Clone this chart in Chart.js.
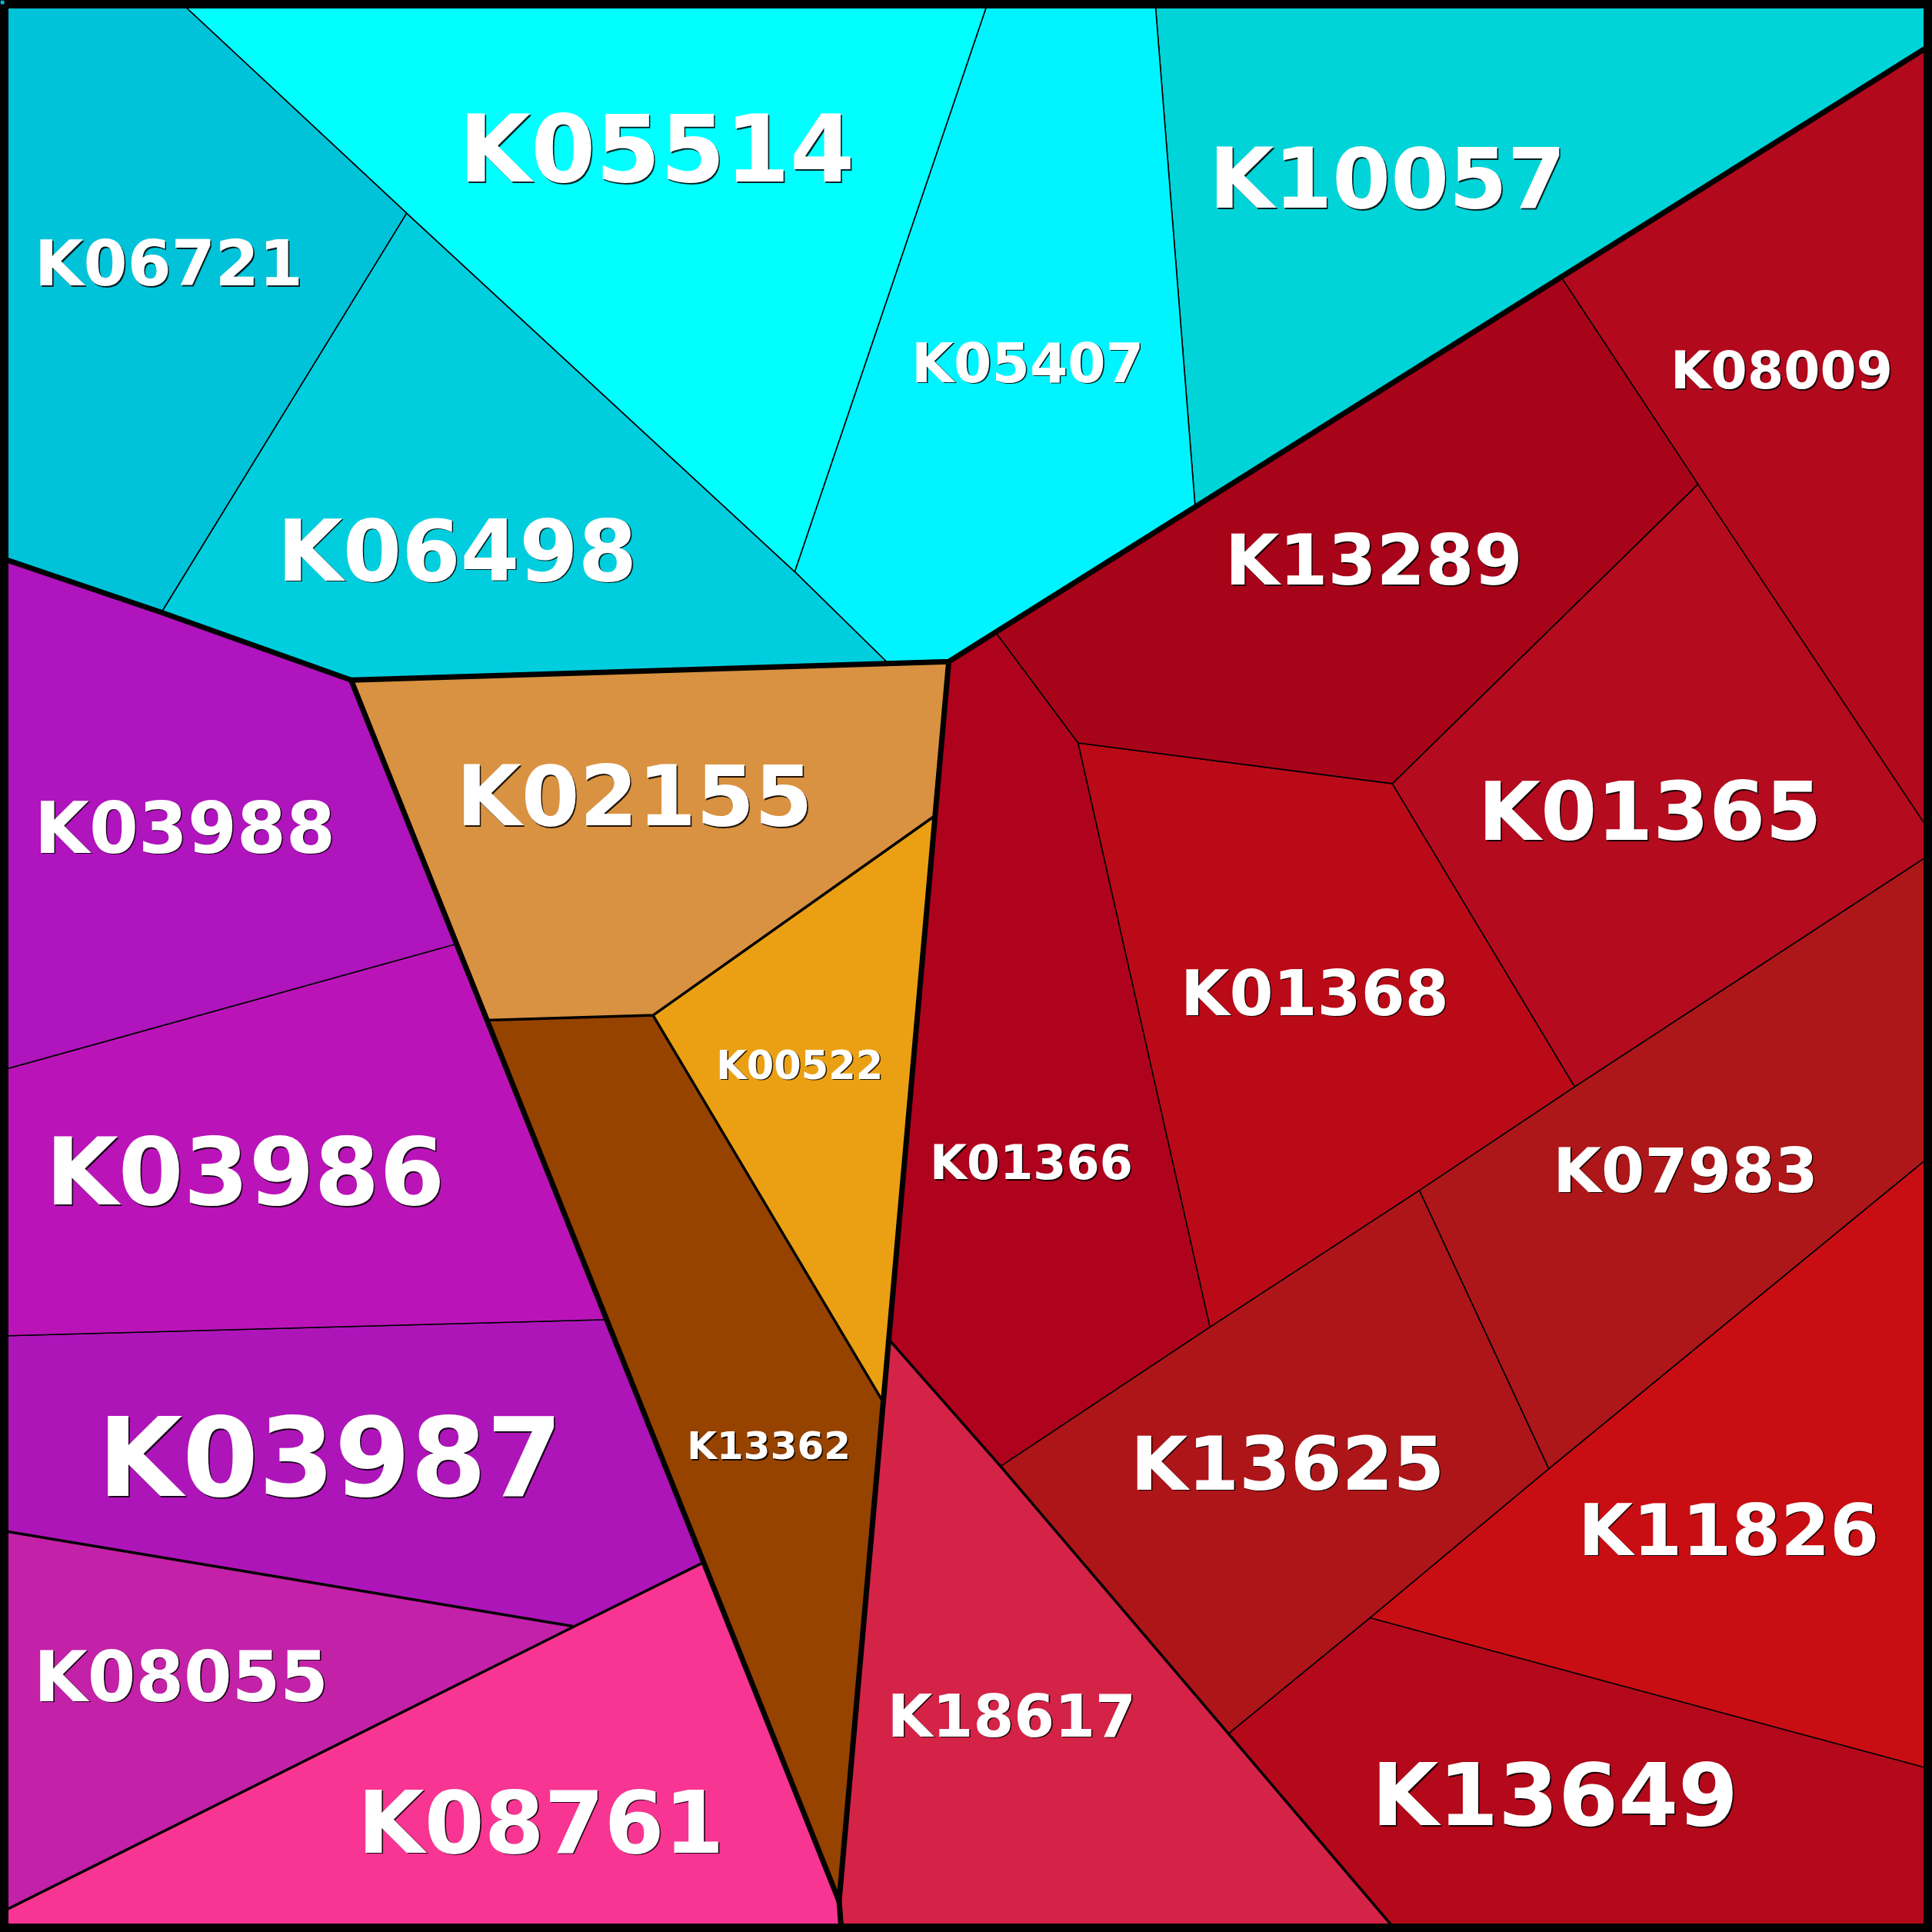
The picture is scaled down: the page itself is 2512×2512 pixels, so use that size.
<!DOCTYPE html>
<html>
<head>
<meta charset="utf-8">
<script src="https://cdn.jsdelivr.net/npm/chart.js@4/dist/chart.umd.min.js"></script>
<style>
  html, body { margin: 0; padding: 0; background: #000; }
  #wrap { width: 2512px; height: 2512px; position: relative; }
</style>
</head>
<body>
<div id="wrap"><canvas id="c"></canvas></div>
<script>
// ---------- DATA (in 1568-unit space) ----------
const cellNames = [
  'K06721','K05514','K06498','K05407','K10057',
  'K02155','K00522','K13362',
  'K03988','K03986','K03987','K08055','K08761',
  'K18617',
  'K13289','K08009','K01365','K01368','K01366','K07983','K13625','K11826','K13649'
];

const cellVertices = [
  [[0,0],[144.5,0],[330,173],[131,497],[0,452.6]],                       // K06721
  [[144.5,0],[802.4,0],[645,464],[330,173]],                             // K05514
  [[330,173],[645,464],[721,538.5],[285,552],[131,497]],                 // K06498
  [[802.4,0],[937.4,0],[970,411.4],[770,537],[721,538.5],[645,464]],     // K05407
  [[937.4,0],[1568,0],[1568,35.9],[1267,224.9],[970,411.4]],             // K10057
  [[285,552],[770,537],[758.9,662],[530,824],[395,828]],                 // K02155
  [[758.9,662],[716.8,1138],[530,824]],                                  // K00522
  [[395,828],[530,824],[716.8,1138],[681,1543],[571.1,1268],[492.4,1071]], // K13362
  [[0,452.6],[131,497],[285,552],[370.5,766],[0,869]],                   // K03988
  [[0,869],[370.5,766],[492.4,1071],[0,1084.2]],                         // K03986
  [[0,1084.2],[492.4,1071],[571.1,1268],[466,1320],[0,1242]],            // K03987
  [[0,1242],[466,1320],[0,1552.5]],                                      // K08055
  [[0,1552.5],[466,1320],[571.1,1268],[681,1543],[683,1568],[0,1568]],   // K08761
  [[721.3,1087],[812,1190],[997,1407],[1134,1568],[683,1568],[681,1543]],// K18617
  [[808,513.1],[1267,224.9],[1378,393],[1130,636],[875,603]],            // K13289
  [[1267,224.9],[1568,35.9],[1568,677.5],[1378,393]],                    // K08009
  [[1378,393],[1568,677.5],[1568,692.4],[1278,882],[1130,636]],          // K01365
  [[875,603],[1130,636],[1278,882],[1152,966],[982,1077]],               // K01368
  [[770,537],[808,513.1],[875,603],[982,1077],[812,1190],[721.3,1087]],  // K01366
  [[1568,692.4],[1568,937],[1257,1192],[1152,966],[1278,882]],           // K07983
  [[1152,966],[1257,1192],[1112,1313],[997,1407],[812,1190],[982,1077]], // K13625
  [[1568,937],[1568,1436],[1112,1313],[1257,1192]],                      // K11826
  [[1112,1313],[1568,1436],[1568,1568],[1134,1568],[997,1407]]           // K13649
];

const labelX = [137,533,371,834,1126, 515,649,624, 150,199,268,147,439, 821, 1115,1446,1339,1067,837,1368,1045,1403,1262];
const labelY = [213,120,446,294,144, 645,864,1173, 671,950,1182,1360,1478, 1392, 454,300,658,805,943,949,1187,1241,1456];

// Boundaries between top-level groups and between sub-groups
const groupBoundaries = [
  [[0,452.6],[131,497],[285,552],[770,537],[1568,35.9]],
  [[285,552],[681,1543]],
  [[770,537],[681,1543],[683,1568]]
];
const subgroupBoundaries = [
  [[758.9,662],[530,824],[395,828]],
  [[530,824],[716.8,1138]],
  [[721.3,1087],[812,1190],[997,1407],[1134,1568]],
  [[0,1552.5],[466,1320],[571.1,1268]],
  [[0,1242],[466,1320]]
];
const frameOutline = [[3.43,3.43],[1564.57,3.43],[1564.57,1564.57],[3.43,1564.57],[3.43,3.43]];

// ---------- STYLES ----------
const cellColors = [
  '#00C3D9','#00FFFF','#00CEDE','#00F4FF','#00D4D8',
  '#D99241','#EBA014','#964300',
  '#AF14BD','#BA14B9','#AE15B9','#C321A8','#F83593',
  '#D42346',
  '#A80419','#B3091D','#B40B1E','#BA0A17','#AF021C','#AD1719','#AD1519','#C80E13','#B3091B'
];
const labelFontPx = [82,121,110,71,109, 109,51,50, 92,122,142,90,112, 76, 91,68,105,82,62,81,96,92,112];

// ---------- CHART ----------
const toPts = arr => arr.map(([x, y]) => ({x, y}));

const datasets = [];
datasets.push({
  label: 'frame', data: toPts(frameOutline), showLine: true, fill: false,
  borderColor: '#000', borderWidth: 11, pointRadius: 0, tension: 0,
  borderJoinStyle: 'miter', order: 0, clip: false
});
groupBoundaries.forEach((b, i) => datasets.push({
  label: 'group' + i, data: toPts(b), showLine: true, fill: false,
  borderColor: '#000', borderWidth: 7, pointRadius: 0, tension: 0,
  borderJoinStyle: 'round', borderCapStyle: 'round', order: 1
}));
subgroupBoundaries.forEach((b, i) => datasets.push({
  label: 'sub' + i, data: toPts(b), showLine: true, fill: false,
  borderColor: '#000', borderWidth: 3.5, pointRadius: 0, tension: 0,
  borderJoinStyle: 'round', order: 2
}));
cellNames.forEach((name, i) => {
  const pts = toPts(cellVertices[i]);
  pts.push({...pts[0]});
  datasets.push({
    label: name, data: pts, showLine: true, fill: 'shape',
    backgroundColor: cellColors[i], borderColor: '#000', borderWidth: 1.6,
    pointRadius: 0, tension: 0, order: 3
  });
});

const labelPlugin = {
  id: 'cellLabels',
  afterDatasetsDraw(chart) {
    const {ctx, scales: {x, y}} = chart;
    ctx.save();
    ctx.textAlign = 'center';
    ctx.textBaseline = 'alphabetic';
    cellNames.forEach((name, i) => {
      const size = labelFontPx[i];
      ctx.font = 'bold ' + size + 'px "DejaVu Sans"';
      const px = x.getPixelForValue(labelX[i]);
      const py = y.getPixelForValue(labelY[i]) + 0.3645 * size;
      ctx.fillStyle = 'rgba(0,0,0,0.85)';
      ctx.fillText(name, px + 1.6, py + 1.6);
      ctx.fillStyle = '#FFFFFF';
      ctx.fillText(name, px, py);
    });
    ctx.restore();
  }
};

new Chart(document.getElementById('c'), {
  type: 'scatter',
  data: { datasets },
  options: {
    responsive: true,
    maintainAspectRatio: false,
    animation: false,
    events: [],
    layout: { padding: 0 },
    plugins: { legend: { display: false }, tooltip: { enabled: false } },
    scales: {
      x: { type: 'linear', min: 0, max: 1568, display: false },
      y: { type: 'linear', min: 0, max: 1568, reverse: true, display: false }
    }
  },
  plugins: [labelPlugin]
});
</script>
</body>
</html>
